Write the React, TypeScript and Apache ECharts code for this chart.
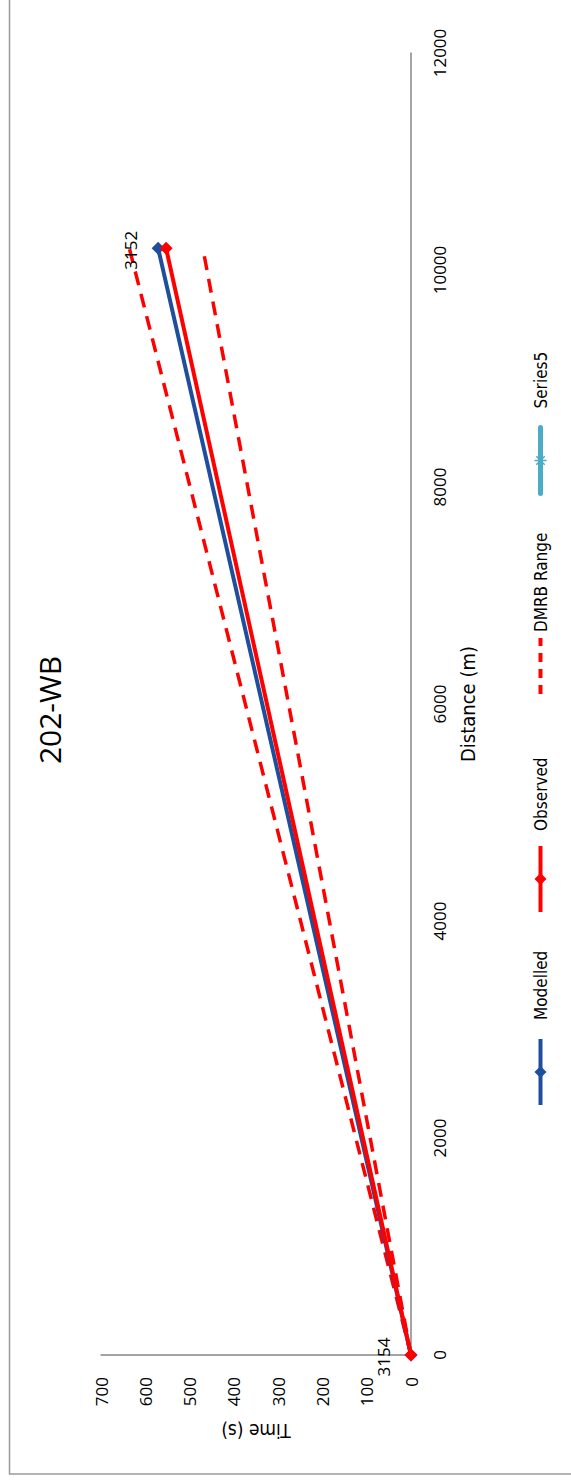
import React, { useEffect, useRef } from "react";
import * as echarts from "echarts";

// Journey time vs distance for route 202-WB
const distance = [0, 10200];
const modelled = [0, 571];
const observed = [0, 553];
const dmrbLower = [0, 470];
const dmrbUpper = [0, 636];
const series5 = [0, 571];
const series5Labels = ["3154", "3152"];

const distanceTicks = { min: 0, max: 12000, interval: 2000 };
const timeTicks = { min: 0, max: 700, interval: 100 };

const FONT = '"Liberation Sans Narrow", "DejaVu Sans Condensed", "Open Sans", sans-serif';
const TICK_FONT = '"Open Sans", sans-serif';

const W = 1481;
const H = 571;

const BLUE = "#1f4e9c";
const RED = "#ff0000";
const CYAN = "#4BACC6";

const pairs = (ys: number[]) => distance.map((d, i) => [d, ys[i]]);

const asterisk = "path://M5,0 L5,10 M0,5 L10,5 M1.5,1.5 L8.5,8.5 M8.5,1.5 L1.5,8.5";

// one legend block per entry, placed by the centre of its key
const legendKeys = [
  { name: "Modelled", center: 402, width: 66, pad: 14 },
  { name: "Observed", center: 595, width: 66, pad: 10 },
  { name: "DMRB Range", center: 808, width: 56, pad: 1 },
  { name: "Series5", center: 1013, width: 66, pad: 14 },
];

export default function App() {
  const ref = useRef<HTMLDivElement>(null);

  useEffect(() => {
    if (!ref.current) return;
    const chart = echarts.init(ref.current, undefined, {
      renderer: "svg",
      width: W,
      height: H,
    });
    const axisLine = { show: true, lineStyle: { color: "#868686", width: 1.5 } };
    const legendItem: Record<string, any> = {
      Modelled: {
        itemStyle: { color: BLUE, borderWidth: 0 },
        lineStyle: { color: BLUE, width: 4 },
      },
      Observed: {
        itemStyle: { color: RED, borderWidth: 0 },
        lineStyle: { color: RED, width: 4 },
      },
      "DMRB Range": {
        itemStyle: { color: "rgba(0,0,0,0)", borderWidth: 0 },
        lineStyle: { color: RED, width: 4, type: [9, 7] },
      },
      Series5: {
        itemStyle: { color: "rgba(0,0,0,0)", borderColor: CYAN, borderWidth: 1.5 },
        lineStyle: { color: CYAN, width: 5, cap: "round" },
      },
    };
    chart.setOption({
      animation: false,
      backgroundColor: "#fff",
      title: {
        text: "202-WB",
        left: 766,
        textAlign: "center",
        top: 29,
        textStyle: { fontFamily: TICK_FONT, fontSize: 30, fontWeight: "normal", color: "#000" },
      },
      legend: legendKeys.map((k) => ({
        top: 527,
        left: k.center - k.width / 2,
        itemWidth: k.width,
        itemHeight: 15,
        textStyle: { fontFamily: FONT, fontSize: 17, color: "#000", padding: [0, 0, 0, k.pad] },
        data: [{ name: k.name, ...legendItem[k.name] }],
      })),
      graphic: [
        {
          type: "rect",
          shape: { x: 7, y: 9.5, width: 1520, height: 600 },
          style: { fill: "none", stroke: "#9a9a9a", lineWidth: 1.5 },
          silent: true,
        },
      ],
      grid: { left: 126, right: 53, top: 101, bottom: 160 },
      xAxis: {
        type: "value",
        ...distanceTicks,
        name: "Distance (m)",
        nameLocation: "middle",
        nameGap: 47,
        nameTextStyle: { fontFamily: FONT, fontSize: 20, color: "#000" },
        axisLine,
        axisTick: { show: false },
        splitLine: { show: false },
        axisLabel: {
          margin: 20,
          fontFamily: TICK_FONT,
          fontSize: 17,
          color: "#000",
          formatter: (v: number) => String(v),
        },
      },
      yAxis: {
        type: "value",
        ...timeTicks,
        name: "Time (s)",
        nameLocation: "middle",
        nameRotate: 90,
        nameGap: 66,
        nameTextStyle: { fontFamily: FONT, fontSize: 19, color: "#000" },
        axisLine,
        axisTick: { show: false },
        splitLine: { show: false },
        axisLabel: { margin: 22, fontFamily: TICK_FONT, fontSize: 17, color: "#000" },
      },
      series: [
        {
          name: "DMRB Range",
          type: "line",
          data: pairs(dmrbUpper),
          symbol: "none",
          lineStyle: { color: RED, width: 3.5, type: [14, 9] },
          itemStyle: { color: RED },
          z: 2,
        },
        {
          name: "DMRB Range",
          type: "line",
          data: pairs(dmrbLower),
          symbol: "none",
          lineStyle: { color: RED, width: 3.5, type: [14, 9] },
          itemStyle: { color: RED },
          z: 2,
        },
        {
          name: "Modelled",
          type: "line",
          data: pairs(modelled),
          symbol: "diamond",
          symbolSize: 13,
          lineStyle: { color: BLUE, width: 4 },
          itemStyle: { color: BLUE },
          z: 3,
        },
        {
          name: "Observed",
          type: "line",
          data: pairs(observed),
          symbol: "diamond",
          symbolSize: 13,
          lineStyle: { color: RED, width: 4 },
          itemStyle: { color: RED },
          z: 4,
        },
        {
          name: "Series5",
          type: "line",
          data: pairs(series5),
          symbol: asterisk,
          symbolSize: 1,
          lineStyle: { color: "rgba(0,0,0,0)", width: 0 },
          itemStyle: { color: "rgba(0,0,0,0)", borderWidth: 0 },
          z: 5,
          label: {
            show: true,
            position: "top",
            distance: 19,
            offset: [-2, 0],
            fontFamily: TICK_FONT,
            fontSize: 17,
            color: "#000",
            formatter: (p: any) => series5Labels[p.dataIndex],
          },
        },
      ],
    });
    return () => chart.dispose();
  }, []);

  return (
    <div
      style={{
        position: "absolute",
        left: 0,
        top: 0,
        width: 571,
        height: 1481,
        overflow: "hidden",
        background: "#fff",
      }}
    >
      <div
        ref={ref}
        style={{
          width: W,
          height: H,
          transformOrigin: "0 0",
          transform: `translateY(${W}px) rotate(-90deg)`,
        }}
      />
    </div>
  );
}
